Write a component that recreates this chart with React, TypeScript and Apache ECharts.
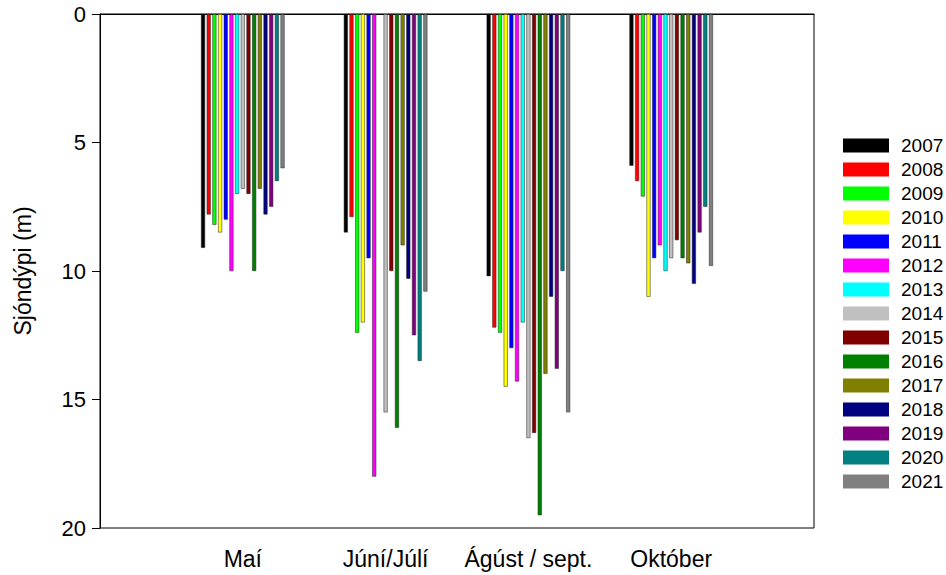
import React, { useEffect, useRef } from "react";
import * as echarts from "echarts";

const categories = ["", "Maí", "Júní/Júlí", "Ágúst / sept.", "Október", ""];
const years = ["2007", "2008", "2009", "2010", "2011", "2012", "2013", "2014", "2015", "2016", "2017", "2018", "2019", "2020", "2021"];
const colors = ["#000000", "#ff0000", "#00ff00", "#ffff00", "#0000ff", "#ff00ff", "#00ffff", "#c0c0c0", "#800000", "#008000", "#808000", "#000080", "#800080", "#008080", "#808080"];

// depth (m) per year, for Maí, Júní/Júlí, Ágúst / sept., Október
const mai = [9.1, 7.8, 8.2, 8.5, 8.0, 10.0, 7.0, 6.8, 7.0, 10.0, 6.8, 7.8, 7.5, 6.5, 6.0];
const juni = [8.5, 7.9, 12.4, 12.0, 9.5, 18.0, null, 15.5, 10.0, 16.1, 9.0, 10.3, 12.5, 13.5, 10.8];
const agust = [10.2, 12.2, 12.4, 14.5, 13.0, 14.3, 12.0, 16.5, 16.3, 19.5, 14.0, 11.0, 13.8, 10.0, 15.5];
const oktober = [5.9, 6.5, 7.1, 11.0, 9.5, 9.0, 10.0, 9.5, 8.8, 9.5, 9.7, 10.5, 8.5, 7.5, 9.8];

const yTicks = [0, 5, 10, 15, 20];

export default function App() {
  const ref = useRef<HTMLDivElement>(null);
  useEffect(() => {
    if (!ref.current) return;
    const chart = echarts.init(ref.current, null, { renderer: "svg" });
    const font = "Liberation Sans, Arial, sans-serif";
    const series = years.map((y, i) => ({
      name: y,
      type: "bar",
      barWidth: 4,
      barGap: "42%",
      itemStyle: { color: colors[i], borderColor: "#222", borderWidth: 0.5 },
      data: ["-", mai[i], juni[i] == null ? "-" : juni[i], agust[i], oktober[i], "-"],
    }));
    chart.setOption({
      animation: false,
      backgroundColor: "#ffffff",
      textStyle: { fontFamily: font },
      grid: { left: 100, right: 132, top: 14, bottom: 47, show: true, borderColor: "#000", borderWidth: 1, backgroundColor: "transparent" },
      legend: {
        orient: "vertical",
        left: 843,
        top: 136,
        padding: 0,
        itemWidth: 46,
        itemHeight: 14,
        itemGap: 5,
        icon: "rect",
        data: years,
        textStyle: { fontFamily: font, fontSize: 19, color: "#000", padding: [0, 0, 0, 7] },
        itemStyle: { borderWidth: 0 },
      },
      xAxis: {
        type: "category",
        data: categories,
        boundaryGap: false,
        axisLine: { lineStyle: { color: "#000", width: 1 } },
        axisTick: {
          interval: (idx: number) => idx > 0 && idx < categories.length - 1,
          length: 6,
          lineStyle: { color: "#000" },
        },
        axisLabel: {
          interval: 0,
          color: "#000",
          fontSize: 23,
          fontFamily: font,
          margin: 19,
        },
        splitLine: { show: false },
      },
      yAxis: {
        type: "value",
        inverse: true,
        min: yTicks[0],
        max: yTicks[yTicks.length - 1],
        interval: 5,
        name: "Sjóndýpi (m)",
        nameLocation: "middle",
        nameGap: 66,
        nameRotate: 90,
        nameTextStyle: { color: "#000", fontSize: 23, fontFamily: font },
        axisLine: { show: true, lineStyle: { color: "#000", width: 1 } },
        axisTick: { show: true, length: 8, lineStyle: { color: "#000" } },
        axisLabel: { color: "#000", fontSize: 22, fontFamily: font, margin: 14 },
        splitLine: { show: false },
      },
      series,
    });
    return () => chart.dispose();
  }, []);
  return <div ref={ref} style={{ width: 946, height: 575, position: "absolute", left: 0, top: 0 }} />;
}
